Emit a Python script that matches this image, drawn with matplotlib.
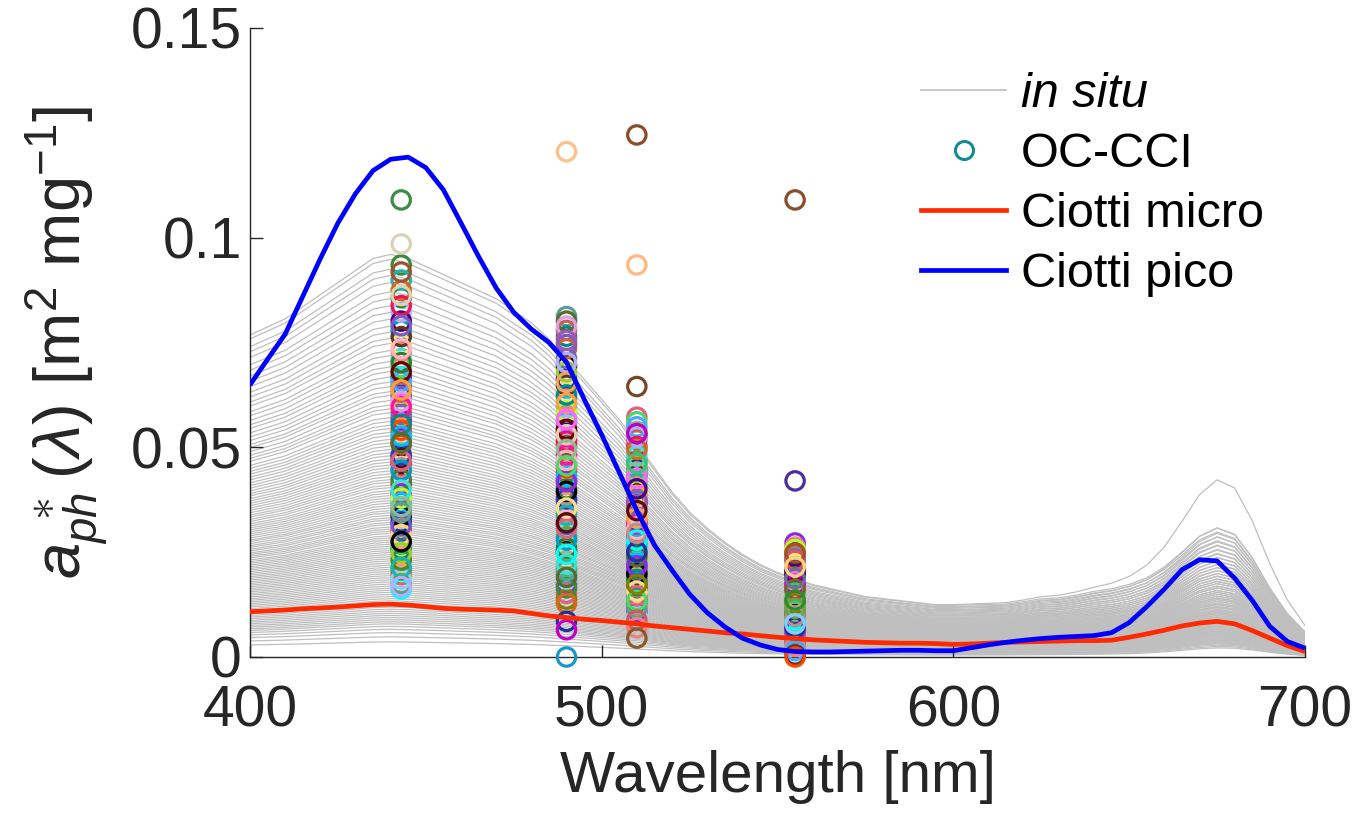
import numpy as np
import matplotlib
matplotlib.use('Agg')
import matplotlib.pyplot as plt
from matplotlib.lines import Line2D

plt.rcParams['font.family'] = ['Liberation Sans', 'DejaVu Sans']
plt.rcParams['mathtext.fontset'] = 'custom'
plt.rcParams['mathtext.rm'] = 'Liberation Sans'
plt.rcParams['mathtext.it'] = 'Liberation Sans:italic'
plt.rcParams['mathtext.bf'] = 'Liberation Sans:bold'

# ---------------- data ----------------
wavelength = np.arange(400, 701, 5)

# Ciotti et al. size-class specific absorption spectra
ciotti_pico = [
    0.0649, 0.0710, 0.0770, 0.0860, 0.0950, 0.1035, 0.1105, 0.1160, 0.1187, 0.1192,
    0.1167, 0.1114, 0.1035, 0.0955, 0.0880, 0.0822, 0.0782, 0.0750, 0.0703, 0.0615,
    0.0530, 0.0440, 0.0349, 0.0267, 0.0207, 0.0150, 0.0106, 0.0072, 0.0045, 0.0029,
    0.0018, 0.0013, 0.0012, 0.0012, 0.0013, 0.0014, 0.0015, 0.0016, 0.0016, 0.0015,
    0.0015, 0.0022, 0.0029, 0.0035, 0.0040, 0.0044, 0.0047, 0.0049, 0.0051, 0.0058,
    0.0082, 0.0120, 0.0162, 0.0208, 0.0232, 0.0229, 0.0188, 0.0135, 0.0073, 0.0037,
    0.0021]
ciotti_micro = [
    0.0108, 0.0110, 0.0112, 0.0115, 0.0117, 0.0119, 0.0122, 0.0125, 0.0126, 0.0124,
    0.0120, 0.0116, 0.0114, 0.0113, 0.0112, 0.0110, 0.0104, 0.0098, 0.0094, 0.0090,
    0.0087, 0.0083, 0.0079, 0.0074, 0.0070, 0.0066, 0.0062, 0.0058, 0.0055, 0.0051,
    0.0047, 0.0044, 0.0041, 0.0039, 0.0037, 0.0035, 0.0034, 0.0033, 0.0033, 0.0032,
    0.0030, 0.0031, 0.0033, 0.0035, 0.0036, 0.0037, 0.0038, 0.0039, 0.0039, 0.0040,
    0.0047, 0.0055, 0.0064, 0.0074, 0.0081, 0.0085, 0.0079, 0.0063, 0.0045, 0.0027,
    0.0013]

# in situ spectra: blue-region shape (normalised at 440 nm) and red-peak shape
insitu_shape = [
    0.80, 0.82, 0.84, 0.87, 0.90, 0.93, 0.96, 0.99, 1.00, 0.99,
    0.97, 0.95, 0.93, 0.91, 0.89, 0.86, 0.83, 0.79, 0.74, 0.69,
    0.64, 0.59, 0.53, 0.47, 0.41, 0.36, 0.32, 0.285, 0.255, 0.23,
    0.21, 0.195, 0.18, 0.17, 0.16, 0.15, 0.145, 0.14, 0.135, 0.13,
    0.13, 0.13, 0.13, 0.13, 0.135, 0.14, 0.14, 0.145, 0.15, 0.15,
    0.15, 0.145, 0.14, 0.13, 0.12, 0.11, 0.10, 0.085, 0.065, 0.048,
    0.035]
insitu_red_shape = [0.0] * 40 + [
    0.0, 0.005, 0.01, 0.015, 0.02, 0.03, 0.04, 0.05, 0.07, 0.10,
    0.15, 0.25, 0.40, 0.62, 0.85, 0.99, 0.96, 0.76, 0.50, 0.28,
    0.13]
# per-spectrum amplitude at 440 nm and red-peak amplitude
insitu_a440 = [
    0.0960, 0.0948, 0.0925, 0.0910, 0.0893, 0.0871, 0.0855, 0.0838, 0.0822, 0.0806,
    0.0789, 0.0775, 0.0760, 0.0748, 0.0731, 0.0719, 0.0705, 0.0692, 0.0681, 0.0668,
    0.0656, 0.0645, 0.0633, 0.0624, 0.0612, 0.0601, 0.0592, 0.0583, 0.0571, 0.0562,
    0.0553, 0.0545, 0.0536, 0.0528, 0.0519, 0.0511, 0.0503, 0.0495, 0.0487, 0.0480,
    0.0472, 0.0465, 0.0458, 0.0451, 0.0444, 0.0437, 0.0430, 0.0423, 0.0417, 0.0410,
    0.0404, 0.0397, 0.0391, 0.0385, 0.0379, 0.0373, 0.0367, 0.0361, 0.0355, 0.0349,
    0.0344, 0.0338, 0.0332, 0.0327, 0.0321, 0.0316, 0.0310, 0.0305, 0.0300, 0.0295,
    0.0289, 0.0284, 0.0279, 0.0274, 0.0269, 0.0264, 0.0259, 0.0254, 0.0249, 0.0244,
    0.0239, 0.0234, 0.0229, 0.0224, 0.0219, 0.0214, 0.0209, 0.0204, 0.0199, 0.0194,
    0.0189, 0.0184, 0.0179, 0.0174, 0.0169, 0.0164, 0.0159, 0.0154, 0.0149, 0.0144,
    0.0139, 0.0134, 0.0129, 0.0124, 0.0119, 0.0114, 0.0109, 0.0104, 0.0099, 0.0094,
    0.0089, 0.0084, 0.0079, 0.0073, 0.0066, 0.0058, 0.0048, 0.0036]
insitu_red = [
    0.0320, 0.0205, 0.0198, 0.0210, 0.0190, 0.0201, 0.0185, 0.0196, 0.0178, 0.0188,
    0.0170, 0.0182, 0.0165, 0.0176, 0.0158, 0.0168, 0.0152, 0.0163, 0.0147, 0.0157,
    0.0142, 0.0151, 0.0138, 0.0146, 0.0133, 0.0141, 0.0129, 0.0136, 0.0124, 0.0132,
    0.0120, 0.0128, 0.0117, 0.0124, 0.0113, 0.0120, 0.0110, 0.0116, 0.0106, 0.0113,
    0.0103, 0.0109, 0.0100, 0.0106, 0.0097, 0.0103, 0.0094, 0.0100, 0.0092, 0.0097,
    0.0089, 0.0094, 0.0086, 0.0091, 0.0084, 0.0088, 0.0081, 0.0086, 0.0079, 0.0083,
    0.0076, 0.0081, 0.0074, 0.0078, 0.0072, 0.0076, 0.0070, 0.0073, 0.0067, 0.0071,
    0.0065, 0.0069, 0.0063, 0.0066, 0.0061, 0.0064, 0.0059, 0.0062, 0.0057, 0.0060,
    0.0055, 0.0058, 0.0053, 0.0056, 0.0051, 0.0054, 0.0049, 0.0052, 0.0047, 0.0050,
    0.0045, 0.0048, 0.0043, 0.0046, 0.0042, 0.0044, 0.0040, 0.0042, 0.0038, 0.0040,
    0.0036, 0.0038, 0.0035, 0.0036, 0.0033, 0.0034, 0.0031, 0.0032, 0.0030, 0.0030,
    0.0028, 0.0028, 0.0026, 0.0025, 0.0024, 0.0022, 0.0020, 0.0018]

# OC-CCI satellite aph* at the sensor bands
occci_bands = [443, 490, 510, 555]
occci_443 = [
    0.0935, 0.0412, 0.0668, 0.0221, 0.0857, 0.0534, 0.0303, 0.0779, 0.0462, 0.0175,
    0.0621, 0.0368, 0.0899, 0.0257, 0.0712, 0.0495, 0.0336, 0.0588, 0.0196, 0.0823,
    0.0437, 0.0646, 0.0281, 0.0745, 0.0519, 0.0162, 0.0603, 0.0389, 0.0874, 0.0239,
    0.0691, 0.0475, 0.0322, 0.0566, 0.0208, 0.0801, 0.0451, 0.0632, 0.0269, 0.0728,
    0.0507, 0.0355, 0.0918, 0.0186, 0.0579, 0.0423, 0.0657, 0.0292, 0.0764, 0.0541,
    0.0314, 0.0610, 0.0231, 0.0838, 0.0482, 0.0379, 0.0702, 0.0248, 0.0596, 0.0445,
    0.0680, 0.0345, 0.0790, 0.0527, 0.0214, 0.0555, 0.0398, 0.0862, 0.0275, 0.0637,
    0.0468, 0.0168, 0.0735, 0.0511, 0.0359]
occci_490 = [
    0.0812, 0.0371, 0.0598, 0.0198, 0.0765, 0.0476, 0.0271, 0.0694, 0.0412, 0.0152,
    0.0553, 0.0328, 0.0801, 0.0229, 0.0633, 0.0441, 0.0299, 0.0524, 0.0175, 0.0735,
    0.0389, 0.0577, 0.0251, 0.0663, 0.0462, 0.0138, 0.0537, 0.0346, 0.0779, 0.0213,
    0.0615, 0.0423, 0.0287, 0.0504, 0.0186, 0.0712, 0.0401, 0.0563, 0.0240, 0.0648,
    0.0451, 0.0316, 0.0789, 0.0165, 0.0515, 0.0377, 0.0585, 0.0260, 0.0680, 0.0482,
    0.0279, 0.0543, 0.0206, 0.0745, 0.0430, 0.0338, 0.0625, 0.0221, 0.0530, 0.0395,
    0.0605, 0.0307, 0.0702, 0.0469, 0.0190, 0.0495, 0.0355, 0.0755, 0.0245, 0.0566,
    0.0418, 0.0128, 0.0655, 0.0456, 0.0320, 0.0085, 0.0065]
occci_510 = [
    0.0572, 0.0265, 0.0421, 0.0141, 0.0538, 0.0336, 0.0193, 0.0489, 0.0292, 0.0108,
    0.0391, 0.0233, 0.0561, 0.0162, 0.0447, 0.0311, 0.0212, 0.0369, 0.0125, 0.0518,
    0.0275, 0.0407, 0.0178, 0.0468, 0.0326, 0.0098, 0.0379, 0.0245, 0.0549, 0.0151,
    0.0434, 0.0298, 0.0203, 0.0355, 0.0132, 0.0502, 0.0284, 0.0397, 0.0170, 0.0456,
    0.0318, 0.0223, 0.0529, 0.0117, 0.0363, 0.0266, 0.0414, 0.0185, 0.0479, 0.0341,
    0.0198, 0.0385, 0.0146, 0.0525, 0.0304, 0.0239, 0.0441, 0.0157, 0.0373, 0.0279,
    0.0426, 0.0217, 0.0495, 0.0331, 0.0135, 0.0349, 0.0251, 0.0533, 0.0173, 0.0401,
    0.0295, 0.0088, 0.0462, 0.0070, 0.0045]
occci_555 = [
    0.0272, 0.0121, 0.0196, 0.0062, 0.0251, 0.0155, 0.0087, 0.0228, 0.0134, 0.0045,
    0.0181, 0.0106, 0.0262, 0.0073, 0.0208, 0.0143, 0.0095, 0.0171, 0.0052, 0.0241,
    0.0126, 0.0189, 0.0080, 0.0218, 0.0150, 0.0035, 0.0176, 0.0112, 0.0256, 0.0068,
    0.0202, 0.0138, 0.0091, 0.0165, 0.0057, 0.0234, 0.0130, 0.0185, 0.0077, 0.0212,
    0.0147, 0.0101, 0.0246, 0.0048, 0.0169, 0.0122, 0.0193, 0.0084, 0.0223, 0.0159,
    0.0089, 0.0179, 0.0064, 0.0244, 0.0141, 0.0110, 0.0205, 0.0071, 0.0173, 0.0128,
    0.0199, 0.0098, 0.0231, 0.0153, 0.0025, 0.0162, 0.0116, 0.0248, 0.0079, 0.0187,
    0.0136, 0.0015, 0.0215, 0.0005, 0.0000]
# isolated OC-CCI points (band, value, colour)
outlier_band = [443, 443, 490, 490, 510, 510, 510, 555, 555]
outlier_value = [0.1090, 0.0985, 0.1205, 0.0000, 0.1245, 0.0935, 0.0645, 0.1090, 0.0420]
outlier_color = ['#3d8b46', '#dcd3b5', '#ffbf88', '#1a96c8', '#8b4c2a',
                 '#ffb880', '#7a4526', '#8b4c2a', '#4b2ea0']

palette = ['#3a8a3a', '#ddd3b0', '#4cd964', '#2e8b2e', '#6b0000', '#ffdd88', '#3fbf7f',
           '#e8175d', '#000000', '#5a0a0a', '#4da6ff', '#5e9e8e', '#9b59b6', '#f08080',
           '#1f3fbf', '#ff9f40', '#2030a0', '#ffd27f', '#7a5cc0', '#00ffff', '#8b5a2b',
           '#adff2f', '#e0607e', '#c000c0', '#5b3a1a', '#00bfff', '#ff66ff', '#70a040',
           '#2e7d32', '#b0b0ff', '#808000', '#ff4500', '#20b2aa', '#8a2be2', '#a0522d',
           '#9acd32', '#ffb6c1', '#4b0082', '#6a5acd', '#008b8b', '#d2691e', '#87cefa',
           '#ff1493', '#556b2f', '#bc8f8f', '#dda0dd', '#40e0d0', '#f4a460', '#6e6e9e',
           '#0099cc', '#8fbc8f', '#cd5c5c']

legend_labels = ['in situ', 'OC-CCI', 'Ciotti micro', 'Ciotti pico']

# ---------------- plot ----------------
W, H = 1352, 814
fig = plt.figure(figsize=(W / 100, H / 100), dpi=100)
ax = fig.add_axes([250 / W, 1 - 657 / H, 1055 / W, 629 / H])

shape = np.array(insitu_shape)
red_shape = np.array(insitu_red_shape)
for a, r in zip(insitu_a440, insitu_red):
    ax.plot(wavelength, a * shape + r * red_shape, color='#bfbfbf', lw=0.9,
            zorder=1, solid_joinstyle='round')

ring = dict(s=175, facecolors='none', linewidths=2.3, zorder=3, clip_on=False)
for k, (band, vals) in enumerate(zip(occci_bands, [occci_443, occci_490, occci_510, occci_555])):
    cols = [palette[(i * 7 + k * 11) % len(palette)] for i in range(len(vals))]
    ax.scatter([band] * len(vals), vals, edgecolors=cols, **ring)
ax.scatter(outlier_band, outlier_value, edgecolors=outlier_color, **ring)

ax.plot(wavelength, ciotti_micro, color='#ff2a00', lw=3.4, zorder=4,
        solid_capstyle='butt', solid_joinstyle='round')
ax.plot(wavelength, ciotti_pico, color='#0000ff', lw=3.4, zorder=5,
        solid_capstyle='butt', solid_joinstyle='round')

ax.set_xlim(400, 700)
ax.set_ylim(0, 0.15)
ax.set_xticks([400, 500, 600, 700])
ax.set_xticklabels(['400', '500', '600', '700'])
ax.set_yticks([0, 0.05, 0.1, 0.15])
ax.set_yticklabels(['0', '0.05', '0.1', '0.15'])
ax.tick_params(direction='in', length=9, width=1, labelsize=41, colors='#262626')
ax.tick_params(axis='x', pad=20)
ax.tick_params(axis='y', pad=6)
for s in ['top', 'right']:
    ax.spines[s].set_visible(False)
for s in ['left', 'bottom']:
    ax.spines[s].set_color('#262626')
    ax.spines[s].set_linewidth(1.0)

ax.set_xlabel('Wavelength [nm]', fontsize=42, color='#262626', labelpad=8)
ax.set_ylabel(r'$a_{ph}^{\ \ast}\,(\lambda)$ [m$^{2}$ mg$^{-1}$]', fontsize=47,
              color='#262626', labelpad=14)

handles = [Line2D([], [], color='#bfbfbf', lw=1.2),
           Line2D([], [], ls='none', marker='o', ms=13, mfc='none', mec='#168b96', mew=2.2),
           Line2D([], [], color='#ff2a00', lw=3.4),
           Line2D([], [], color='#0000ff', lw=3.4)]
leg = ax.legend(handles, legend_labels, loc='upper left',
                bbox_to_anchor=((921 - 250) / 1055, (657 - 72) / 629),
                frameon=False, fontsize=35, handlelength=1.75, handletextpad=0.3,
                labelspacing=0.31, borderpad=0, borderaxespad=0)
leg.get_texts()[0].set_fontstyle('italic')

fig.savefig('out.png', dpi=100)
